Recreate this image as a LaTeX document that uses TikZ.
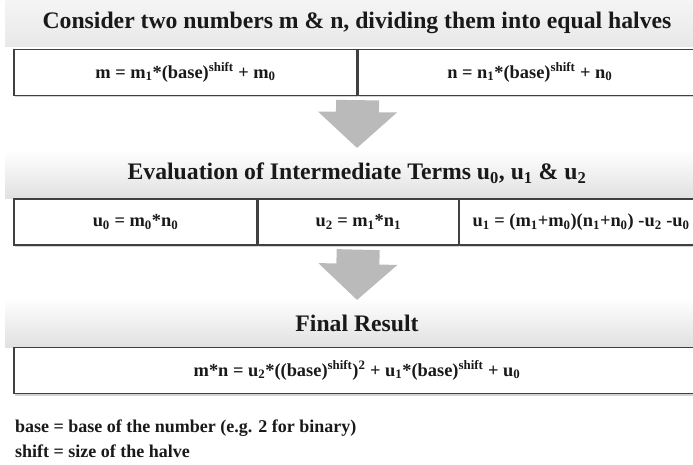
\documentclass[tikz,border=0pt]{standalone}
\usepackage{fontspec}
\setmainfont{Liberation Serif}
\usetikzlibrary{positioning,arrows.meta,shadows}

\begin{document}
\begin{tikzpicture}[x=1pt,y=-1pt,
    heading/.style={font=\fontsize{23.7}{27}\selectfont\bfseries, text=black!90, inner sep=0pt},
    cell/.style={draw=black!75, line width=1.3pt, fill=white, minimum height=46pt, inner sep=0pt,
        font=\fontsize{18.4}{21}\selectfont\bfseries, text=black!90,
        drop shadow={opacity=0.35, shadow xshift=0.5pt, shadow yshift=-2pt}},
    band/.style={top color=white, bottom color=black!12},
    flow/.style={line width=43pt, draw=black!27, -{Triangle[width=77pt,length=36pt]}, shorten <=4pt},
    note/.style={font=\fontsize{18}{21}\selectfont\bfseries, text=black!90, anchor=west, inner sep=0pt}]
    \useasboundingbox (0,0) rectangle (693,465);
    \clip (0,0) rectangle (693,465);

    % header bands
    \shade[top color=black!4, bottom color=black!9] (5,0) rectangle (693,47);
    \shade[band] (5,150) rectangle (693,199);
    \shade[band] (5,298) rectangle (693,347);

    \node (head1) [heading] at (357,23) {Consider two numbers m \& n, dividing them into equal halves};
    \node (m) [cell, minimum width=343pt] at (185.5,72.5) {m = m\textsubscript{1}*(base)\textsuperscript{shift} + m\textsubscript{0}};
    \node (n) [cell, minimum width=343pt, right=0pt of m] {n = n\textsubscript{1}*(base)\textsuperscript{shift} + n\textsubscript{0}};

    \node (head2) [heading] at (357,173) {Evaluation of Intermediate Terms u\textsubscript{0}, u\textsubscript{1} \& u\textsubscript{2}};
    \node (u0) [cell, minimum width=243pt] at (135.5,222) {u\textsubscript{0} = m\textsubscript{0}*n\textsubscript{0}};
    \node (u2) [cell, minimum width=200pt, right=0pt of u0] {u\textsubscript{2} = m\textsubscript{1}*n\textsubscript{1}};
    \node (u1) [cell, minimum width=243pt, right=0pt of u2] {u\textsubscript{1} = (m\textsubscript{1}+m\textsubscript{0})(n\textsubscript{1}+n\textsubscript{0}) -u\textsubscript{2} -u\textsubscript{0}};

    \node (head3) [heading] at (357,323) {Final Result};
    \node (res) [cell, minimum width=686pt] at (357,370.5) {m*n = u\textsubscript{2}*((base)\textsuperscript{shift})\textsuperscript{2} + u\textsubscript{1}*(base)\textsuperscript{shift} + u\textsubscript{0}};

    \node (base) [note] at (15,428) {base = base of the number (e.g. 2 for binary)};
    \node (shift) [note] at (15,451) {shift = size of the halve};

    \coordinate (tip1) at (357,148);
    \coordinate (tip2) at (357,300);
    \draw[flow] (m.south east) -- (tip1);
    \draw[flow] (u2.south) -- (tip2);
\end{tikzpicture}
\end{document}
